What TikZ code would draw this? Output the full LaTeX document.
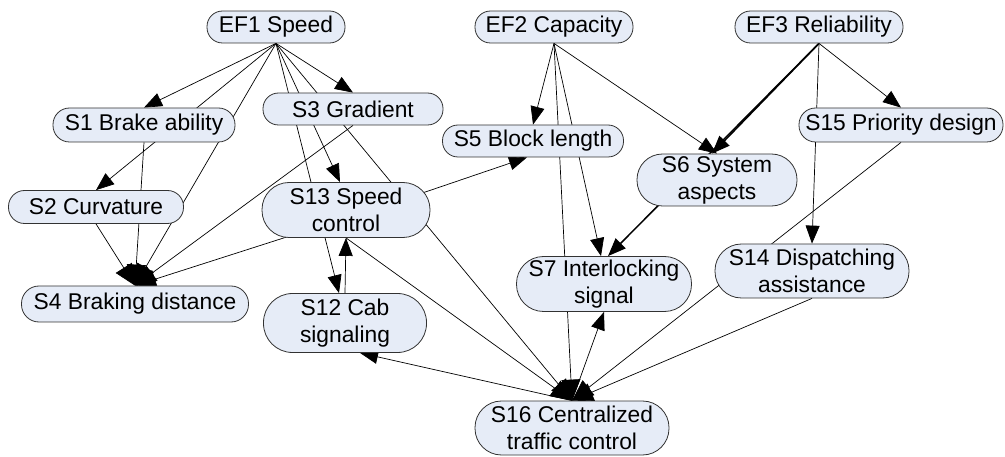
\documentclass[tikz,border=0pt]{standalone}
\usepackage{fontspec}
\setmainfont{Liberation Sans}
\usetikzlibrary{arrows.meta,calc}
\definecolor{boxfill}{RGB}{230,236,247}
\definecolor{boxline}{RGB}{50,50,50}
\pgfdeclarelayer{bg}
\pgfsetlayers{bg,main}
\begin{document}
\begin{tikzpicture}[x=1pt,y=-1pt,
  box/.style={draw=boxline, line width=0.8pt, fill=boxfill, inner sep=0pt, align=center,
    font=\fontsize{22.8}{27}\selectfont},
  ln/.style={line width=0.7pt, draw=black},
  ar/.style={ln, -{Triangle[length=18pt,width=14pt]}},
  hub/.style={ln, -{Triangle[length=21pt,width=19pt]}},
  tk/.style={line width=1.5pt, draw=black, -{Triangle[length=18pt,width=14pt]}}]
\useasboundingbox (0,0) rectangle (1005,457);

\node[box, minimum width=138pt, minimum height=32pt, rounded corners=15.5pt] (ef1) at (276,27) {EF1 Speed};
\node[box, minimum width=158pt, minimum height=32pt, rounded corners=15.5pt] (ef2) at (554,27) {EF2 Capacity};
\node[box, minimum width=168pt, minimum height=32pt, rounded corners=15.5pt] (ef3) at (819,27) {EF3 Reliability};
\node[box, minimum width=182pt, minimum height=34pt, rounded corners=16.5pt] (s1) at (144,125) {S1 Brake ability};
\node[box, minimum width=175pt, minimum height=33pt, rounded corners=16pt] (s2) at (96,207) {S2 Curvature};
\node[box, minimum width=180pt, minimum height=32pt, rounded corners=15.5pt] (s3) at (353,109) {S3 Gradient};
\node[box, minimum width=227pt, minimum height=36pt, rounded corners=17.5pt] (s4) at (135,304) {S4 Braking distance};
\node[box, minimum width=181pt, minimum height=32pt, rounded corners=15.5pt] (s5) at (533,141) {S5 Block length};
\node[box, minimum width=160pt, minimum height=52pt, rounded corners=25.5pt] (s6) at (717,180) {S6 System\\aspects};
\node[box, minimum width=175pt, minimum height=55pt, rounded corners=27pt] (s7) at (604,284) {S7 Interlocking\\signal};
\node[box, minimum width=163pt, minimum height=59pt, rounded corners=29pt] (s12) at (345,323) {S12 Cab\\signaling};
\node[box, minimum width=168pt, minimum height=55pt, rounded corners=27pt] (s13) at (346,210) {S13 Speed\\control};
\node[box, minimum width=194pt, minimum height=54pt, rounded corners=26.5pt] (s14) at (812,271) {S14 Dispatching\\assistance};
\node[box, minimum width=204pt, minimum height=34pt, rounded corners=16.5pt] (s15) at (901,125) {S15 Priority design};
\node[box, minimum width=194pt, minimum height=54pt, rounded corners=26.5pt] (s16) at (572,428) {S16 Centralized\\traffic control};

\begin{pgfonlayer}{bg}
% from EF1
\draw[ar] (ef1.south) -- (s1.north);
\draw[ar] (ef1.south) -- (s2.north);
\draw[hub] (ef1.south) -- (s4.north);
\draw[ar] (ef1.south) -- (s3.north);
\draw[ar] (ef1.south) -- ($(s13.north)+(-6,0)$);
\draw[ar] (ef1.south) -- ($(s12.north)+(-6,0)$);
\draw[hub] (ef1.south) -- (s16.north);
% into S4
\draw[hub] (s1.south) -- (s4.north);
\draw[hub] (s2.south) -- (s4.north);
\draw[hub] (s3.south) -- (s4.north);
\draw[hub] ($(s13.center)+(0,8)$) -- (s4.north);
% S13, S12
\draw[ar] ($(s13.center)+(0,9)$) -- ($(s5.south)+(-6,0)$);
\draw[hub] (s13.south) -- (s16.north);
\draw[ar] (s12.north) -- (s13.south);
\draw[ar] (s16.north) -- ($(s12.south)+(15,0)$);
\draw[ar] (s16.north) -- (s7.south);
% from EF2
\draw[ar] (ef2.south) -- (s5.north);
\draw[ar] (ef2.south) -- ($(s7.north)+(-3,0)$);
\draw[hub] (ef2.south) -- (s16.north);
\draw[ar] (ef2.south) -- (s6.north);
% from EF3
\draw[tk] (ef3.south) -- ($(s6.north)+(-5,0)$);
\draw[tk] (ef3.south) -- ($(s7.north)+(4,0)$);
\draw[ar] (ef3.south) -- (s15.north);
\draw[ar] (ef3.south) -- (s14.north);
\draw[hub] (s15.south) -- (s16.north);
\draw[hub] (s14.south) -- (s16.north);
\end{pgfonlayer}
\end{tikzpicture}
\end{document}
